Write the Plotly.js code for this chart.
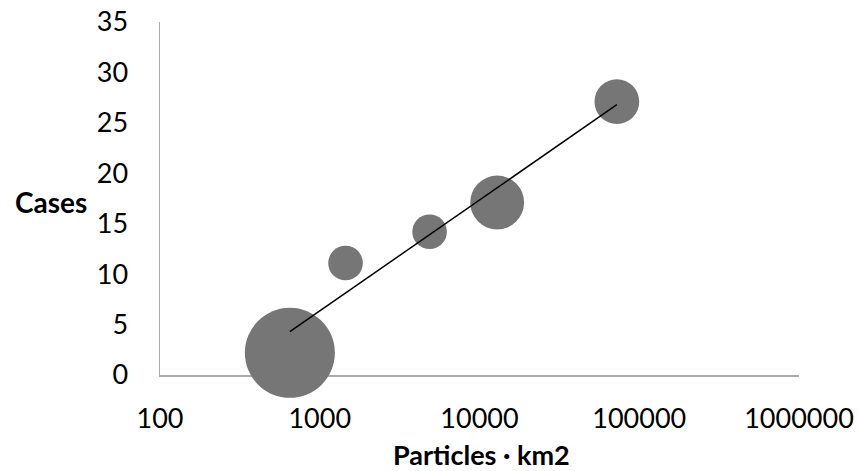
<!DOCTYPE html>
<html>
<head>
<meta charset="utf-8">
<script src="https://cdn.plot.ly/plotly-3.0.1.min.js"></script>
<style>html,body{margin:0;padding:0;background:#fff;}#chart{width:858px;height:471px;}</style>
</head>
<body>
<div id="chart"></div>
<script>
// Data
const particles = [650, 1450, 4870, 12900, 72400];   // Particles · km2
const cases = [2.2, 11.1, 14.2, 17.1, 27.1];          // Cases
const bubbleValue = [8.1, 1.2, 1.2, 2.9, 2.0];        // relative bubble size (area)
const xTickVals = [100, 1000, 10000, 100000, 1000000];
const xTickText = ['100', '1000', '10000', '100000', '1000000'];
const yTickVals = [0, 5, 10, 15, 20, 25, 30, 35];

// Logarithmic trendline (least squares on log10(x)), as in the source chart
const lx = particles.map(v => Math.log10(v));
const n = lx.length;
const mx = lx.reduce((a, b) => a + b, 0) / n;
const my = cases.reduce((a, b) => a + b, 0) / n;
let sxy = 0, sxx = 0;
for (let i = 0; i < n; i++) { sxy += (lx[i] - mx) * (cases[i] - my); sxx += (lx[i] - mx) * (lx[i] - mx); }
const slope = sxy / sxx, icpt = my - slope * mx;
const xMin = Math.min(...particles), xMax = Math.max(...particles);
const trendX = [xMin, xMax];
const trendY = trendX.map(v => icpt + slope * Math.log10(v));

const maxB = Math.max(...bubbleValue);
const font = 'Lato, "Open Sans", sans-serif';

const traces = [
  {
    type: 'scatter', mode: 'markers', x: particles, y: cases,
    cliponaxis: false, hoverinfo: 'x+y',
    marker: { size: bubbleValue, sizemode: 'area', sizeref: 2 * maxB / (90 * 90), color: '#767676', line: { width: 0 }, opacity: 1 }
  },
  {
    type: 'scatter', mode: 'lines', x: trendX, y: trendY, cliponaxis: false,
    line: { color: '#000000', width: 1.5 }, hoverinfo: 'skip'
  }
];

const layout = {
  width: 858, height: 471,
  margin: { l: 160, r: 59, t: 22, b: 96 },
  paper_bgcolor: '#ffffff', plot_bgcolor: '#ffffff',
  showlegend: false,
  font: { family: font, color: '#000000', size: 27 },
  xaxis: {
    type: 'log', range: [2, 6], tickvals: xTickVals, ticktext: xTickText,
    showgrid: false, zeroline: false, showline: true, linecolor: '#ababab', linewidth: 1.5,
    ticks: '', ticklabelstandoff: 19, layer: 'below traces',
    tickfont: { family: font, size: 27, color: '#000000' }
  },
  yaxis: {
    range: [0, 35], tickvals: yTickVals,
    showgrid: false, zeroline: false, showline: true, linecolor: '#ababab', linewidth: 1.5,
    ticks: '', ticklabelstandoff: 25, layer: 'below traces',
    tickfont: { family: font, size: 27, color: '#000000' }
  },
  annotations: [
    {
      text: '<b>Cases</b>', xref: 'paper', yref: 'paper', x: -0.171, y: 0.49,
      xanchor: 'center', yanchor: 'middle', showarrow: false,
      font: { family: font, size: 28, color: '#000000' }
    },
    {
      text: '<b>Particles · km2</b>', xref: 'paper', yref: 'paper', x: 0.503, y: -0.224,
      xanchor: 'center', yanchor: 'middle', showarrow: false,
      font: { family: font, size: 27, color: '#000000' }
    }
  ]
};

Plotly.newPlot('chart', traces, layout, { displayModeBar: false, staticPlot: true });
</script>
</body>
</html>
